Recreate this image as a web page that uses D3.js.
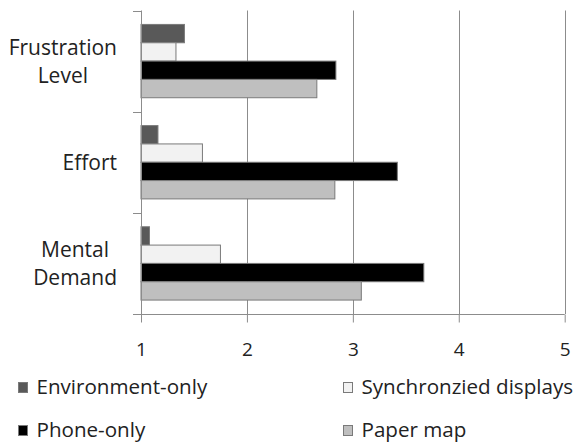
<!DOCTYPE html>
<html><head><meta charset="utf-8">
<script src="https://cdn.jsdelivr.net/npm/d3@7"></script>
<style>html,body{margin:0;padding:0;background:#fff;}svg{display:block;}</style>
</head><body>
<svg id="c" width="573" height="442"></svg>
<script>
const categories = ["Frustration Level", "Effort", "Mental Demand"];
const categoryLines = [["Frustration", "Level"], ["Effort"], ["Mental", "Demand"]];
const series = ["Environment-only", "Synchronzied displays", "Phone-only", "Paper map"];
const envOnly = [1.41, 1.16, 1.08];
const syncDisplays = [1.33, 1.58, 1.75];
const phoneOnly = [2.84, 3.42, 3.67];
const paperMap = [2.66, 2.83, 3.08];
const xTicks = [1, 2, 3, 4, 5];
const colors = ["#595959", "#f2f2f2", "#000000", "#bfbfbf"];
const values = [envOnly, syncDisplays, phoneOnly, paperMap];

const svg = d3.select("#c");
const font = "'Open Sans', sans-serif";
const x = d3.scaleLinear().domain([1, 5]).range([141, 564.7]);
const y = d3.scaleBand().domain(categories).range([10.5, 314]).paddingInner(0).paddingOuter(0);
const ys = d3.scaleBand().domain(series).range([0, y.bandwidth()]).paddingInner(0).paddingOuter(0.76);

// gridlines
svg.append("g").selectAll("line").data(xTicks.filter(d => d > 1)).join("line")
  .attr("x1", d => Math.round(x(d)) + 0.5).attr("x2", d => Math.round(x(d)) + 0.5)
  .attr("y1", 10.5).attr("y2", 314).attr("stroke", "#8c8c8c").attr("stroke-width", 1);

// bars
const rows = [];
categories.forEach((c, i) => series.forEach((s, j) => rows.push({c, s, j, v: values[j][i]})));
svg.append("g").selectAll("rect").data(rows).join("rect")
  .attr("x", x(1))
  .attr("y", d => y(d.c) + ys(d.s))
  .attr("width", d => x(d.v) - x(1))
  .attr("height", ys.bandwidth())
  .attr("fill", d => colors[d.j])
  .attr("stroke", "#7a7a7a").attr("stroke-width", 1);

// bottom axis
const xAxis = d3.axisBottom(x).tickValues(xTicks).tickSize(8).tickFormat(d3.format("d")).tickSizeOuter(0);
const gx = svg.append("g").attr("transform", "translate(0,314.5)").call(xAxis);
gx.select(".domain").remove();
gx.selectAll(".tick line").attr("stroke", "#8c8c8c");
gx.selectAll(".tick text").attr("font-family", font).attr("font-size", 19).attr("fill", "#222").attr("dy", null).attr("y", 41.5);
svg.append("line").attr("x1", 133).attr("x2", x(5)).attr("y1", 314.5).attr("y2", 314.5).attr("stroke", "#8c8c8c");

// left axis
svg.append("line").attr("x1", 141.5).attr("x2", 141.5).attr("y1", 10.5).attr("y2", 314).attr("stroke", "#8c8c8c");
const bounds = [10.5].concat(categories.map(c => y(c) + y.bandwidth()));
svg.append("g").selectAll("line").data(bounds).join("line")
  .attr("x1", 133).attr("x2", 141.5).attr("y1", d => Math.round(d) + 0.5).attr("y2", d => Math.round(d) + 0.5)
  .attr("stroke", "#8c8c8c");

// category labels
const lineH = 28;
categories.forEach((c, i) => {
  const lines = categoryLines[i];
  const g = svg.append("g");
  const texts = g.selectAll("text").data(lines).join("text")
    .attr("font-family", font).attr("font-size", 21).attr("fill", "#222")
    .attr("text-anchor", "middle")
    .attr("y", (d, k) => y(c) + y.bandwidth() / 2 + (k - (lines.length - 1) / 2) * lineH + 7.5)
    .text(d => d);
  let maxW = 0;
  texts.each(function() { maxW = Math.max(maxW, this.getComputedTextLength()); });
  texts.attr("x", 117 - maxW / 2);
});

// legend
const legendPos = [[18, 394], [343, 394], [18, 437], [343, 437]];
const lg = svg.append("g").selectAll("g").data(series).join("g")
  .attr("transform", (d, i) => `translate(${legendPos[i][0]},${legendPos[i][1]})`);
lg.append("rect").attr("x", 0.5).attr("y", -11.5).attr("width", 9).attr("height", 10)
  .attr("fill", (d, i) => colors[i]).attr("stroke", "#7a7a7a");
lg.append("text").attr("x", 18.5).attr("y", 0)
  .attr("font-family", font).attr("font-size", 20.6).attr("fill", "#222").text(d => d);
</script>
</body></html>
